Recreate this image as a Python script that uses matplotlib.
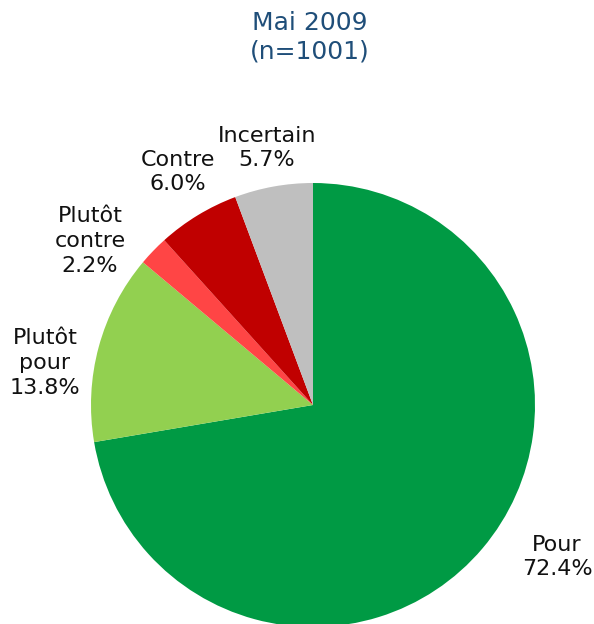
import matplotlib
matplotlib.use("Agg")
import matplotlib.pyplot as plt

categories = ["Pour", "Plutôt pour", "Plutôt contre", "Contre", "Incertain"]
label_text = ["Pour", "Plutôt\npour", "Plutôt\ncontre", "Contre", "Incertain"]
values = [72.4, 13.8, 2.2, 6.0, 5.7]
colors = ["#009a44", "#92d050", "#ff4545", "#c00000", "#bfbfbf"]
title = "Mai 2009\n(n=1001)"

# label positions (data coords, radius = 1)
label_pos = [(1.099, -0.685), (-1.207, 0.189), (-1.005, 0.739), (-0.608, 1.050), (-0.207, 1.158)]

W, H = 594, 624
fig = plt.figure(figsize=(W / 100, H / 100), dpi=100)
cx, cy, R = 313, 405, 222
ax = fig.add_axes([(cx - R) / W, (H - cy - R) / H, 2 * R / W, 2 * R / H])
wedges, _ = ax.pie(values, colors=colors, startangle=90, counterclock=False,
                   radius=1, wedgeprops=dict(linewidth=0))
for w in wedges:
    w.set_clip_on(False)
ax.set_xlim(-1, 1)
ax.set_ylim(-1, 1)
ax.set_aspect("equal")
ax.axis("off")

for txt, v, (x, y) in zip(label_text, values, label_pos):
    ax.text(x, y, f"{txt}\n{v:.1f}%", ha="center", va="center", fontsize=16,
            family="DejaVu Sans", color="#111111", linespacing=1.3, clip_on=False)

fig.text(310 / W, 1 - 37 / H, title, ha="center", va="center", fontsize=18,
         color="#1f4e79", family="DejaVu Sans", linespacing=1.25)

fig.savefig("out.png", dpi=100)
